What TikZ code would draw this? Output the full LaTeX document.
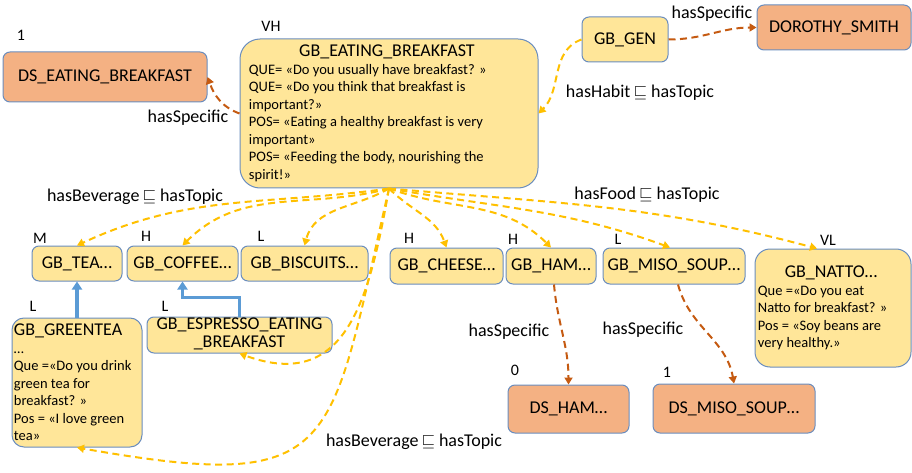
\documentclass[tikz,border=0pt]{standalone}
\usepackage{fontspec}
\setmainfont{Carlito}
\usetikzlibrary{arrows.meta}
\definecolor{gbfill}{HTML}{FFE699}
\definecolor{dsfill}{HTML}{F4B183}
\definecolor{boxborder}{HTML}{6A8DBE}
\definecolor{topicyellow}{HTML}{FFC000}
\definecolor{specorange}{HTML}{C55A11}
\definecolor{isablue}{HTML}{5B9BD5}
\newcommand{\namefont}{\fontsize{18}{20}\selectfont}
\newcommand{\bodyfont}{\fontsize{14.5}{17.5}\selectfont}
\newcommand{\levelfont}{\fontsize{16}{18}\selectfont}
\newcommand{\relfont}{\fontsize{18}{20}\selectfont}

\begin{document}
\begin{tikzpicture}[
    x=1pt, y=-1pt,
    every node/.style={inner sep=0pt},
    gbbox/.style={
        draw=boxborder, fill=gbfill, rounded corners=7pt,
        line width=1pt, font=\namefont, align=center
    },
    dsbox/.style={
        draw=boxborder, fill=dsfill, rounded corners=7pt,
        line width=1pt, font=\namefont, align=center
    },
    levellabel/.style={font=\levelfont},
    rellabel/.style={font=\relfont},
    topiclink/.style={
        -{Triangle[length=7pt,width=8pt]}, topicyellow, line width=2pt,
        dash pattern=on 7pt off 4.5pt
    },
    speclink/.style={
        -{Triangle[length=7pt,width=8pt]}, specorange, line width=2pt,
        dash pattern=on 7pt off 4.5pt
    },
    isalink/.style={
        -{Triangle[length=8pt,width=10pt]}, isablue, line width=3.5pt
    },
]
\useasboundingbox (0,0) rectangle (912,473);

% ===== Habit level =====
\node[dsbox, minimum width=204pt, minimum height=50pt] (dseat) at (105,77) {DS\_EATING\_BREAKFAST};

\node[gbbox, rounded corners=20pt, minimum width=298pt, minimum height=149pt] (geb) at (389,113.5) {%
    \begin{minipage}{276pt}
    {\centering\namefont GB\_EATING\_BREAKFAST\par}
    \bodyfont QUE= «Do you usually have breakfast? »\\
    QUE= «Do you think that breakfast is\\
    important?»\\
    POS= «Eating a healthy breakfast is very\\
    important»\\
    POS= «Feeding the body, nourishing the\\
    spirit!»
    \end{minipage}
};

\node[gbbox, minimum width=86pt, minimum height=45pt] (gbgen) at (625,39.5) {GB\_GEN};
\node[dsbox, minimum width=154pt, minimum height=45pt] (dorothy) at (834,27.5) {DOROTHY\_SMITH};

% ===== Beverages =====
\node[gbbox, minimum width=90pt, minimum height=35pt] (tea) at (77,263.5) {GB\_TEA…};
\node[gbbox, minimum width=111pt, minimum height=35pt] (coffee) at (182.5,263.5) {GB\_COFFEE…};
\node[gbbox, minimum width=127pt, minimum height=35pt] (biscuits) at (304.5,263.5) {GB\_BISCUITS…};

\node[gbbox, rounded corners=12pt, minimum width=130pt, minimum height=129pt] (greentea) at (77,382.5) {%
    \begin{minipage}{122pt}
    {\namefont GB\_GREENTEA\par}
    \bodyfont …\\
    Que =«Do you drink\\
    green tea for\\
    breakfast? »\\
    Pos = «I love green\\
    tea»
    \end{minipage}
};
\node[gbbox, minimum width=185pt, minimum height=36pt] (espresso) at (239.5,335) {%
    \smash{\raisebox{-4pt}{\begin{tabular}{@{}c@{}}GB\_ESPRESSO\_EATING\\[-2pt]\_BREAKFAST\end{tabular}}}};

% ===== Foods =====
\node[gbbox, minimum width=113pt, minimum height=36pt] (cheese) at (446.5,266) {GB\_CHEESE…};
\node[gbbox, minimum width=90pt, minimum height=36pt] (ham) at (551,266) {GB\_HAM…};
\node[gbbox, minimum width=142pt, minimum height=36pt] (miso) at (674,266) {GB\_MISO\_SOUP…};
\node[gbbox, rounded corners=15pt, minimum width=156pt, minimum height=118pt] (natto) at (833,308) {%
    \begin{minipage}{146pt}
    {\centering\namefont GB\_NATTO…\par}
    \bodyfont Que =«Do you eat\\
    Natto for breakfast? »\\
    Pos = «Soy beans are\\
    very healthy.»
    \end{minipage}
};

\node[dsbox, minimum width=121pt, minimum height=48pt] (dsham) at (568.5,409) {DS\_HAM…};
\node[dsbox, minimum width=162pt, minimum height=49pt] (dsmiso) at (734,408.5) {DS\_MISO\_SOUP…};

% ===== Levels =====
\node[levellabel] (lvdseat) at (21,35) {1};
\node[levellabel] (lvgeb) at (271,26) {VH};
\node[levellabel] (lvtea) at (40,238) {M};
\node[levellabel] (lvcoffee) at (146,236) {H};
\node[levellabel] (lvbiscuits) at (261,236) {L};
\node[levellabel] (lvcheese) at (409,238) {H};
\node[levellabel] (lvham) at (513,239) {H};
\node[levellabel] (lvmiso) at (618,239) {L};
\node[levellabel] (lvnatto) at (828,240) {VL};
\node[levellabel] (lvgreentea) at (33,306) {L};
\node[levellabel] (lvespresso) at (165,306) {L};
\node[levellabel] (lvdsham) at (515,370) {0};
\node[levellabel] (lvdsmiso) at (667,372) {1};

% ===== Relation labels =====
\node[rellabel] (relspec1) at (188,118) {hasSpecific};
\node[rellabel] (relbev1) at (135,197) {hasBeverage\,$\sqsubseteq$ hasTopic};
\node[rellabel] (relhabit) at (640,93) {hasHabit\,$\sqsubseteq$ hasTopic};
\node[rellabel] (relspec2) at (712,14) {hasSpecific};
\node[rellabel] (relfood) at (647,195) {hasFood\,$\sqsubseteq$ hasTopic};
\node[rellabel] (relspec3) at (509,332) {hasSpecific};
\node[rellabel] (relspec4) at (643,330) {hasSpecific};
\node[rellabel] (relbev2) at (414,442) {hasBeverage\,$\sqsubseteq$ hasTopic};

% ===== hasSpecific links =====
\draw[speclink] (geb.west) to[out=160,in=-70] (dseat.east);
\draw[speclink] (gbgen.east) to[out=0,in=180] (dorothy.west);
\draw[speclink] ([xshift=3pt]ham.south) to[out=-85,in=90] (dsham.north);
\draw[speclink] ([xshift=4pt]miso.south) to[out=-75,in=100] (dsmiso.north);

% ===== hasTopic links =====
\draw[topiclink] (gbgen.west) to[out=200,in=45] (geb.east);
\draw[topiclink] (geb.south) to[out=188,in=25] (tea.north);
\draw[topiclink] (geb.south) to[out=195,in=45] (coffee.north);
\draw[topiclink] (geb.south) to[out=210,in=75] (biscuits.north);
\draw[topiclink] (geb.south) to[out=-45,in=110] (cheese.north);
\draw[topiclink] (geb.south) to[out=-20,in=135] (ham.north);
\draw[topiclink] (geb.south) to[out=-10,in=160] ([xshift=-4pt]miso.north);
\draw[topiclink] (geb.south) to[out=-5,in=165] ([xshift=-16pt]natto.north);
\draw[topiclink] (geb.south) to[out=-100,in=-20,looseness=1.3] (espresso.south);
\draw[topiclink] (geb.south) to[out=-103,in=-10,looseness=1.7] (greentea.south);

% ===== Subclass links =====
\draw[isalink] (greentea.north) -- (tea.south);
\draw[isalink] (espresso.north) -- ++(0,-19) -| (coffee.south);

\end{tikzpicture}
\end{document}
